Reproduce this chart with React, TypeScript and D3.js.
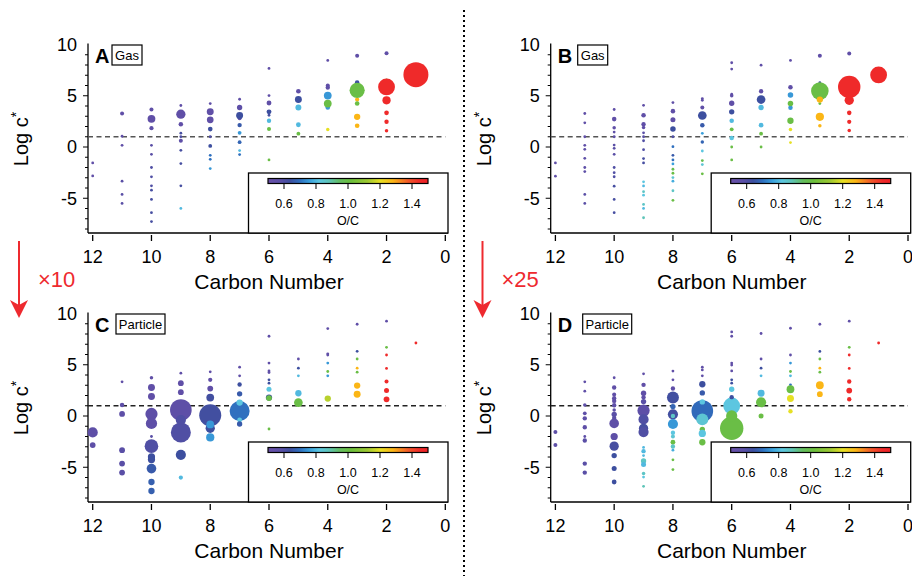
import React from "react";
import * as d3 from "d3";

// [carbon number, log c*, O/C, relative mass]
type Pt = [number, number, number, number];

const carbonTicks = [12, 10, 8, 6, 4, 2, 0];
const logTicks = [-5, 0, 5, 10];
const ocTicks = [0.6, 0.8, 1.0, 1.2, 1.4];

const gasA: Pt[] = [
  [12, -1.55, 0.55, 0], [12, -2.82, 0.55, 0],
  [11, 3.27, 0.55, 0.3], [11, 1.05, 0.55, 0], [11, 0.16, 0.55, 0], [11, -3.33, 0.58, 0], [11, -4.63, 0.58, 0], [11, -5.5, 0.58, 0],
  [10, 3.66, 0.55, 0.3], [10, 1.84, 0.56, 0.4], [10, 0.16, 0.58, 0], [10, -0.71, 0.58, 0], [10, -2.0, 0.6, 0], [10, -2.91, 0.6, 0],
  [10, -3.79, 0.6, 0], [10, -4.21, 0.62, 0], [10, -5.11, 0.62, 0], [10, -6.41, 0.62, 0], [10, -7.28, 0.62, 0], [10, 2.75, 0.55, 5],
  [9, 4.05, 0.55, 0], [9, 2.23, 0.55, 0.6], [9, 1.35, 0.62, 0], [9, 1.0, 0.6, 0], [9, 0.6, 0.56, 0.3], [9, -0.32, 0.62, 0],
  [9, -1.62, 0.62, 0], [9, -3.79, 0.62, 0], [9, -5.99, 0.8, 0], [9, 3.2, 0.55, 8.5],
  [8, 4.24, 0.55, 0], [8, 1.75, 0.64, 0.7], [8, 1.0, 0.6, 0], [8, 0.1, 0.64, 0.2], [8, -0.81, 0.7, 0], [8, -1.2, 0.7, 0],
  [8, -2.1, 0.75, 0], [8, 3.43, 0.55, 3.5], [8, 2.65, 0.55, 3.1],
  [7, 4.66, 0.55, 0], [7, 3.85, 0.56, 1.3], [7, 2.8, 0.56, 0.3], [7, 2.14, 0.66, 0.5], [7, 1.38, 0.75, 0.2], [7, 0.47, 0.68, 0.2],
  [7, -0.35, 0.8, 0], [7, -0.74, 0.7, 0], [7, 3.07, 0.64, 3.5],
  [6, 7.67, 0.55, 0], [6, 5.02, 0.55, 0], [6, 4.3, 0.55, 0.9], [6, 3.43, 0.64, 0.9], [6, 3.1, 0.62, 0], [6, 2.56, 0.8, 0.5],
  [6, 1.75, 1.0, 0.3], [6, -1.26, 1.0, 0],
  [5, 5.44, 0.55, 0.7], [5, 3.85, 0.8, 2], [5, 2.17, 0.8, 0.8], [5, 1.3, 1.0, 0.2], [5, 4.63, 0.64, 3.5],
  [4, 8.45, 0.55, 0], [4, 6.0, 0.55, 0.3], [4, 5.8, 0.56, 0.5], [4, 3.85, 0.75, 0.7], [4, 1.7, 1.2, 0.1], [4, 5.02, 0.75, 5],
  [4, 4.24, 1.0, 5],
  [3, 8.9, 0.55, 0.3], [3, 6.28, 0.64, 0.7], [3, 4.63, 1.28, 0.4], [3, 4.24, 1.0, 0.7], [3, 2.94, 1.28, 2.5], [3, 2.07, 1.28, 0.7],
  [3, 5.53, 1.0, 31],
  [2, 9.15, 0.55, 0.3], [2, 6.5, 1.0, 0.1], [2, 3.33, 1.45, 0.7], [2, 2.46, 1.45, 0.5], [2, 1.59, 1.45, 0.1], [2, 4.56, 1.45, 6],
  [2, 5.86, 1.45, 40],
  [1, 7.06, 1.45, 100],
];

const gasB: Pt[] = [
  [12, -1.55, 0.55, 0], [12, -2.85, 0.55, 0],
  [11, 3.27, 0.55, 0], [11, 2.36, 0.55, 0], [11, 1.0, 0.55, 0], [11, 0.16, 0.55, 0], [11, -0.23, 0.55, 0], [11, -1.1, 0.56, 0],
  [11, -2.0, 0.56, 0], [11, -2.4, 0.56, 0], [11, -4.63, 0.58, 0], [11, -5.5, 0.58, 0],
  [10, 3.66, 0.55, 0], [10, 2.72, 0.55, 0.6], [10, 1.88, 0.55, 0.1], [10, 1.46, 0.56, 0], [10, 1.0, 0.56, 0], [10, 0.19, 0.58, 0],
  [10, -0.13, 0.58, 0], [10, -0.71, 0.58, 0], [10, -2.0, 0.6, 0], [10, -2.5, 0.6, 0], [10, -2.9, 0.6, 0], [10, -3.82, 0.62, 0],
  [10, -5.11, 0.62, 0], [10, -6.41, 0.62, 0],
  [9, 4.07, 0.55, 0], [9, 3.1, 0.55, 0.6], [9, 2.23, 0.55, 0.5], [9, 1.9, 0.55, 0.1], [9, 1.38, 0.58, 0], [9, 1.0, 0.58, 0],
  [9, 0.61, 0.6, 0], [9, -0.26, 0.6, 0], [9, -1.13, 0.62, 0], [9, -1.55, 0.62, 0], [9, -3.4, 0.82, 0], [9, -3.8, 0.8, 0],
  [9, -4.36, 0.86, 0], [9, -4.7, 0.82, 0], [9, -5.6, 0.86, 0], [9, -5.99, 0.8, 0], [9, -6.9, 0.88, 0],
  [8, 4.33, 0.55, 0], [8, 3.5, 0.55, 0.6], [8, 2.65, 0.55, 1.0], [8, 1.0, 0.6, 0], [8, 0.03, 0.7, 0], [8, -0.81, 0.66, 0],
  [8, -1.26, 0.7, 0], [8, -1.65, 0.76, 0], [8, -2.17, 0.98, 0], [8, -2.56, 1.0, 0], [8, -2.98, 0.84, 0], [8, -3.33, 0.78, 0],
  [8, -4.27, 0.86, 0], [8, -5.2, 1.0, 0], [8, 1.75, 0.64, 1.5],
  [7, 4.72, 0.55, 0], [7, 4.56, 0.55, 0], [7, 3.85, 0.55, 0.3], [7, 2.13, 0.66, 0.6], [7, 1.33, 0.76, 0], [7, 0.49, 0.68, 0.1],
  [7, -0.39, 0.82, 0], [7, -1.32, 0.98, 0], [7, -1.71, 0.84, 0], [7, -2.62, 1.0, 0], [7, 3.07, 0.64, 7],
  [6, 8.22, 0.55, 0], [6, 7.6, 0.55, 0], [6, 5.15, 0.55, 0], [6, 4.99, 0.55, 0.1], [6, 4.27, 0.55, 1.3], [6, 3.43, 0.64, 1.3],
  [6, 2.56, 0.8, 0.6], [6, 1.72, 1.0, 0.2], [6, 0.87, 0.82, 0.6], [6, 0.0, 1.0, 0], [6, -1.26, 1.0, 0],
  [5, 7.98, 0.55, 0], [5, 5.44, 0.55, 0.5], [5, 3.85, 0.8, 1.3], [5, 2.13, 0.8, 0.7], [5, 1.3, 1.0, 0.2], [5, 0.0, 1.0, 0],
  [5, 4.63, 0.64, 7],
  [4, 8.45, 0.55, 0], [4, 5.83, 0.55, 0.6], [4, 5.08, 0.75, 1.5], [4, 3.82, 0.75, 0.6], [4, 4.24, 1.0, 1.5], [4, 2.56, 1.0, 2.5],
  [4, 1.7, 1.2, 0.1], [4, 0.43, 1.2, 0],
  [3, 8.9, 0.55, 0.3], [3, 6.28, 0.64, 0], [3, 4.24, 1.0, 0], [3, 2.94, 1.28, 6], [3, 2.07, 1.28, 0.1], [3, 5.47, 1.0, 44],
  [3, 4.63, 1.28, 2.5],
  [2, 9.13, 0.55, 0.3], [2, 3.33, 1.45, 0.6], [2, 2.46, 1.45, 0.4], [2, 1.62, 1.45, 0.1], [2, 4.56, 1.45, 8.5], [2, 5.86, 1.45, 78],
  [1, 7.03, 1.45, 40],
];

const partC: Pt[] = [
  [12, -1.6, 0.56, 11], [12, -2.84, 0.56, 1.8],
  [11, 3.33, 0.55, 0], [11, 1.08, 0.56, 0.6], [11, 0.2, 0.56, 1.8], [11, -3.33, 0.58, 1.8], [11, -4.64, 0.58, 1.8], [11, -5.52, 0.58, 1.8],
  [10, 3.73, 0.55, 0.1], [10, 2.78, 0.55, 3.5], [10, 1.9, 0.55, 3.5], [10, 0.2, 0.56, 18], [10, -0.72, 0.56, 14.5], [10, -2.0, 0.58, 0],
  [10, -2.94, 0.6, 23.7], [10, -3.99, 0.64, 4], [10, -4.25, 0.64, 4], [10, -5.13, 0.66, 9.5], [10, -6.44, 0.67, 2.5], [10, -7.32, 0.67, 2.5],
  [9, 0.59, 0.56, 72], [9, -1.6, 0.6, 60], [9, 4.18, 0.55, 0], [9, 3.2, 0.55, 1.8], [9, 2.32, 0.55, 1.8], [9, -0.39, 0.6, 11],
  [9, -3.79, 0.64, 11], [9, -6.01, 0.8, 0.4],
  [8, 0.07, 0.63, 75], [8, 4.31, 0.55, 0], [8, 3.53, 0.55, 0.4], [8, 2.68, 0.55, 1.8], [8, 1.8, 0.63, 5], [8, -1.2, 0.64, 8.5],
  [8, -0.82, 0.75, 5], [8, -2.09, 0.75, 6],
  [7, 0.49, 0.7, 60], [7, 4.76, 0.55, 0], [7, 3.92, 0.55, 0], [7, 3.07, 0.64, 0.5], [7, 2.16, 0.66, 1.3], [7, 1.31, 0.82, 2.5],
  [7, -0.39, 0.82, 0.8], [7, -0.78, 0.66, 1.3],
  [6, 7.78, 0.55, 0], [6, 5.16, 0.55, 0], [6, 4.4, 0.55, 0], [6, 4.24, 0.55, 0], [6, 3.53, 0.64, 0], [6, 3.2, 0.64, 0],
  [6, 2.61, 0.82, 1.0], [6, 1.8, 0.64, 2.5], [6, 1.75, 1.0, 1.8], [6, -1.27, 1.0, 0],
  [5, 5.56, 0.55, 0], [5, 4.67, 0.64, 0], [5, 3.92, 0.8, 0], [5, 2.22, 0.8, 2.5], [5, 1.31, 1.0, 7],
  [4, 8.53, 0.55, 0], [4, 6.07, 0.55, 0], [4, 5.95, 0.55, 0], [4, 5.16, 0.75, 0], [4, 4.34, 1.0, 0], [4, 3.92, 0.75, 0],
  [4, 1.7, 1.15, 2.5],
  [3, 8.95, 0.55, 0], [3, 6.31, 0.64, 0], [3, 5.56, 1.0, 0], [3, 4.67, 1.28, 0], [3, 4.28, 1.0, 0], [3, 2.97, 1.28, 2.5],
  [3, 2.13, 1.28, 3.5],
  [2, 9.25, 0.55, 0], [2, 6.7, 1.0, 0], [2, 5.95, 1.45, 0], [2, 4.64, 1.45, 0], [2, 3.37, 1.45, 0.3], [2, 2.48, 1.45, 1],
  [2, 1.63, 1.45, 1.8],
  [1, 7.12, 1.45, 0],
];

const partD: Pt[] = [
  [12, -1.55, 0.56, 0.3], [12, -2.84, 0.56, 0.3],
  [11, 3.33, 0.55, 0], [11, 2.42, 0.55, 0], [11, 1.08, 0.56, 0.1], [11, 0.26, 0.56, 0.2], [11, -0.23, 0.56, 0.5], [11, -1.1, 0.56, 0.5],
  [11, -2.0, 0.56, 0], [11, -2.39, 0.58, 0.5], [11, -4.64, 0.58, 0.5], [11, -5.52, 0.58, 0.5],
  [10, 3.73, 0.55, 0], [10, 2.78, 0.55, 0.5], [10, 2.1, 0.55, 0.3], [10, 1.73, 0.55, 0.5], [10, 1.47, 0.55, 0.5], [10, 1.05, 0.56, 0.5],
  [10, 0.59, 0.56, 0.1], [10, 0.16, 0.58, 1.3], [10, -0.2, 0.58, 0.5], [10, -0.72, 0.56, 9.5], [10, -2.0, 0.56, 4],
  [10, -2.94, 0.62, 8.5], [10, -3.86, 0.64, 1.3], [10, -5.13, 0.64, 1], [10, -6.44, 0.64, 0.8],
  [9, 4.11, 0.55, 0], [9, 3.04, 0.55, 0.5], [9, 2.22, 0.55, 1.3], [9, 1.84, 0.55, 0.5], [9, 1.41, 0.58, 1.3], [9, 0.53, 0.56, 18],
  [9, -0.33, 0.6, 11], [9, -1.2, 0.62, 8.5], [9, -1.57, 0.6, 11], [9, -3.07, 0.8, 0], [9, -3.43, 0.8, 0.5], [9, -3.86, 0.8, 0],
  [9, -4.38, 0.86, 1.3], [9, -4.74, 0.8, 1.0], [9, -5.62, 0.86, 0.1], [9, -5.96, 0.82, 0], [9, -6.86, 0.88, 0],
  [8, 4.38, 0.55, 0], [8, 3.53, 0.55, 0], [8, 2.68, 0.55, 0.5], [8, 1.8, 0.63, 17], [8, 0.92, 0.68, 1.3], [8, 0.16, 0.63, 11],
  [8, 0.0, 0.86, 0.5], [8, -0.78, 0.75, 11], [8, -1.63, 0.82, 0.5], [8, -2.0, 0.84, 0.3], [8, -2.56, 1.0, 0.8], [8, -2.98, 0.86, 0.5],
  [8, -3.33, 0.78, 0], [8, -4.28, 1.0, 0], [8, -5.23, 1.0, 0],
  [7, 0.49, 0.69, 72], [7, 4.76, 0.55, 0], [7, 4.5, 0.55, 0], [7, 3.92, 0.55, 0], [7, 3.1, 0.64, 2.5], [7, 2.25, 0.66, 1.3],
  [7, 1.37, 0.82, 1.3], [7, -0.33, 0.84, 17], [7, -1.3, 1.0, 1.3], [7, -1.7, 0.82, 4], [7, -2.56, 1.0, 2.5],
  [6, -1.2, 1.0, 86], [6, 0.98, 0.82, 40], [6, 8.2, 0.55, 0], [6, 7.78, 0.55, 0], [6, 5.16, 0.55, 0], [6, 4.97, 0.55, 0],
  [6, 4.4, 0.55, 0], [6, 3.53, 0.64, 0], [6, 3.2, 0.64, 0], [6, 2.61, 0.82, 1.3], [6, 1.84, 0.64, 0.5], [6, 0.0, 1.0, 14.5],
  [5, 8.05, 0.55, 0], [5, 5.56, 0.55, 0], [5, 4.67, 0.64, 0], [5, 3.92, 0.8, 0], [5, 2.22, 0.8, 3.5], [5, 1.34, 1.0, 11],
  [5, 0.0, 1.0, 1],
  [4, 8.56, 0.55, 0], [4, 5.95, 0.55, 0], [4, 5.16, 0.75, 0], [4, 4.34, 1.0, 0], [4, 3.92, 0.8, 0], [4, 3.04, 0.7, 0],
  [4, 2.61, 1.0, 5], [4, 1.7, 1.2, 3.5], [4, 0.46, 1.2, 0.5],
  [3, 8.95, 0.55, 0], [3, 6.3, 0.64, 0], [3, 5.56, 1.0, 0], [3, 4.67, 1.28, 0], [3, 4.28, 1.0, 0], [3, 3.0, 1.28, 5],
  [3, 2.13, 1.28, 1.8],
  [2, 9.25, 0.55, 0], [2, 6.7, 1.0, 0], [2, 5.95, 1.45, 0], [2, 4.64, 1.45, 0], [2, 3.37, 1.45, 0.5], [2, 2.48, 1.45, 1.8],
  [2, 1.63, 1.45, 0.5],
  [1, 7.12, 1.45, 0],
];

// O/C colour map (rainbow, purple -> red)
const ocStops = [0.5, 0.58, 0.64, 0.7, 0.76, 0.82, 0.88, 0.95, 1.02, 1.12, 1.2, 1.28, 1.38, 1.45, 1.5];
const ocColors = [
  "#6a50a8", "#5a4fa6", "#3d4f9f", "#2f70bf", "#3aa0dc", "#5cc6e0", "#5ec4b8", "#64bd60",
  "#6cbf3c", "#9cc832", "#e6e024", "#fbb616", "#f2562a", "#ef2a2a", "#ed2025",
];
const color = d3
  .scaleLinear<string>()
  .domain(ocStops)
  .range(ocColors)
  .interpolate(d3.interpolateRgb)
  .clamp(true);

const rScale = d3.scaleSqrt().domain([0, 100]).range([1.4, 12.5]);

const font = "'Liberation Sans', Arial, Helvetica, sans-serif";
const red = "#ee2a2f";

type PanelProps = {
  data: Pt[];
  letter: string;
  tag: string;
  tagX: number;
  dx: number;
  dy: number;
  dash: string;
};

const Panel = ({ data, letter, tag, tagX, dx, dy, dash }: PanelProps) => {
  const x = d3.scaleLinear().domain([12, 0]).range([92.7, 445.3]);
  const y = d3.scaleLinear().domain([0, 10]).range([147, 44.5]);
  const oc = d3.scaleLinear().domain([0.5, 1.5]).range([268, 428]);
  const axisX = 88;
  const axisY = 233;
  const minor = d3.range(-8, 10);
  const tagW = tag === "Gas" ? 30 : 49;

  return (
    <g transform={`translate(${dx},${dy})`} fontFamily={font}>
      {/* y axis */}
      <line x1={axisX} x2={axisX} y1={y(10) - 1} y2={axisY} stroke="#000" strokeWidth={1.3} />
      {minor.map((v) => (
        <line
          key={v}
          x1={axisX - (v % 5 === 0 ? 5 : 3)}
          x2={axisX}
          y1={y(v)}
          y2={y(v)}
          stroke="#000"
          strokeWidth={1}
        />
      ))}
      {logTicks.map((v) => (
        <text key={v} x={77} y={y(v) + 6.4} textAnchor="end" fontSize={18}>
          {String(v)}
        </text>
      ))}
      <text transform="translate(28,139) rotate(-90)" textAnchor="middle" fontSize={20}>
        Log c<tspan dy={-7} fontSize={14}>*</tspan>
      </text>

      {/* x axis */}
      <line x1={axisX} x2={448} y1={axisY} y2={axisY} stroke="#000" strokeWidth={1.3} />
      {carbonTicks.map((v) => (
        <g key={v}>
          <line x1={x(v)} x2={x(v)} y1={axisY + 2} y2={axisY + 8} stroke="#000" strokeWidth={1.3} />
          <text x={x(v)} y={263} textAnchor="middle" fontSize={18}>
            {v}
          </text>
        </g>
      ))}
      <text x={269} y={289} textAnchor="middle" fontSize={21}>
        Carbon Number
      </text>

      {/* c* = 10 ug m-3 line */}
      <line
        x1={axisX}
        x2={x(0)}
        y1={y(1)}
        y2={y(1)}
        stroke={dash}
        strokeWidth={1.5}
        strokeDasharray="5,3.5"
      />

      {data.map((d, i) => (
        <circle key={i} cx={x(d[0])} cy={y(d[1])} r={rScale(d[3])} fill={color(d[2])} />
      ))}

      {/* colour legend */}
      <rect x={248.5} y={173} width={199.5} height={60} fill="#fff" stroke="#000" strokeWidth={1.3} />
      <rect x={268} y={178.5} width={160} height={5} fill="url(#ocGrad)" stroke="#000" strokeWidth={1.2} />
      {ocTicks.map((t) => (
        <g key={t}>
          <line x1={oc(t)} x2={oc(t)} y1={183.5} y2={189} stroke="#000" strokeWidth={1} />
          <text x={oc(t)} y={207.5} textAnchor="middle" fontSize={12.5}>
            {d3.format(".1f")(t)}
          </text>
        </g>
      ))}
      <text x={oc(1.0)} y={225} textAnchor="middle" fontSize={12.5}>
        O/C
      </text>

      {/* panel letter and tag */}
      <text x={95} y={62.5} fontSize={20} fontWeight="bold">
        {letter}
      </text>
      <rect x={tagX} y={45} width={tagW} height={20} fill="#fff" stroke="#000" strokeWidth={1.2} />
      <text x={tagX + tagW / 2} y={59.5} textAnchor="middle" fontSize={13}>
        {tag}
      </text>
    </g>
  );
};

const Arrow = ({ x, label }: { x: number; label: string }) => (
  <g fontFamily={font}>
    <line x1={x} x2={x} y1={241} y2={306} stroke={red} strokeWidth={2} />
    <path d={`M${x},318 L${x - 9},300 L${x},305 L${x + 9},300 Z`} fill={red} />
    <text x={x + 19} y={287} fontSize={22} fill={red}>
      {label}
    </text>
  </g>
);

export default function App() {
  const dx = 462.7;
  const dy = 269;
  return (
    <svg
      width={912}
      height={576}
      style={{ position: "absolute", left: 0, top: 0, background: "#fff" }}
    >
      <defs>
        <linearGradient id="ocGrad" x1="0" x2="1" y1="0" y2="0">
          {ocStops.map((s, i) => (
            <stop key={s} offset={(s - 0.5) / 1.0} stopColor={ocColors[i]} />
          ))}
        </linearGradient>
      </defs>
      <rect width={912} height={576} fill="#fff" />
      <line x1={464} x2={464} y1={10} y2={576} stroke="#000" strokeWidth={2} strokeDasharray="2,3" />
      <Panel data={gasA} letter="A" tag="Gas" tagX={112} dx={0} dy={0} dash="#555" />
      <Panel data={gasB} letter="B" tag="Gas" tagX={115} dx={dx} dy={0} dash="#555" />
      <Panel data={partC} letter="C" tag="Particle" tagX={116} dx={0} dy={dy} dash="#222" />
      <Panel data={partD} letter="D" tag="Particle" tagX={120} dx={dx} dy={dy} dash="#222" />
      <Arrow x={19} label="×10" />
      <Arrow x={482.5} label="×25" />
    </svg>
  );
}
